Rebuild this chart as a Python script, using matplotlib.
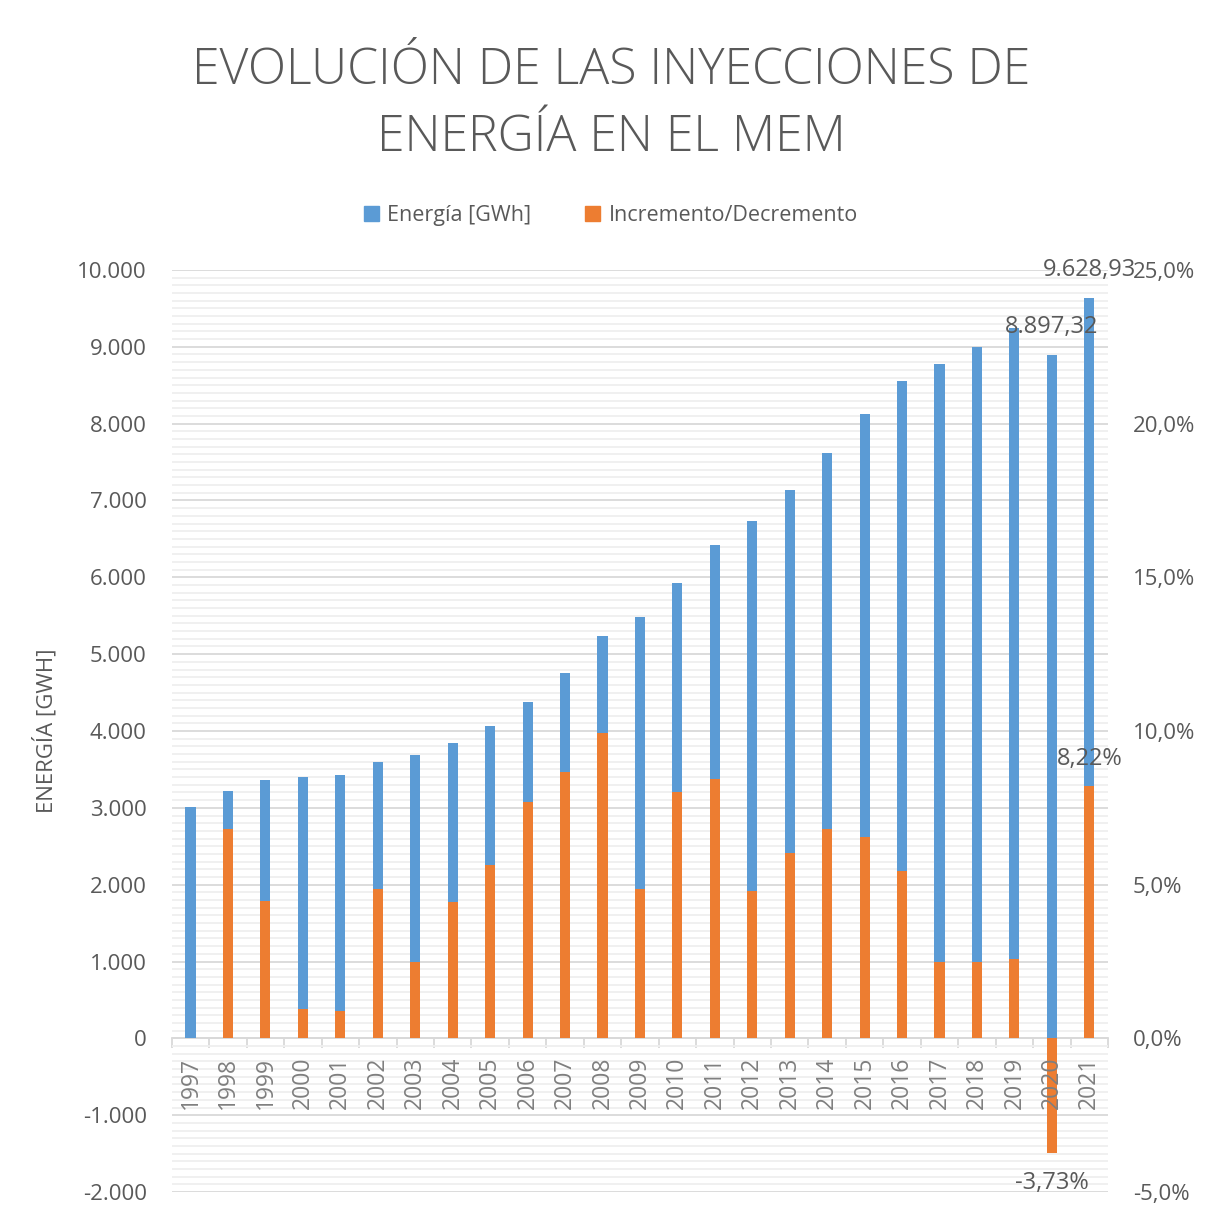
import numpy as np
import matplotlib.pyplot as plt
from matplotlib.ticker import FuncFormatter, MultipleLocator, FixedLocator
from matplotlib.patches import Patch

plt.rcParams['font.family'] = ['Open Sans', 'DejaVu Sans']

years = [str(y) for y in range(1997, 2022)]
energia = [3008, 3216, 3359, 3398, 3424, 3594, 3685, 3841, 4063, 4375, 4753, 5234,
           5482, 5924, 6419, 6732, 7135, 7617, 8125, 8555, 8776, 8997, 9245,
           8897.32, 9628.93]
incremento = [0, 6.80, 4.46, 0.94, 0.88, 4.85, 2.47, 4.43, 5.63, 7.68, 8.66, 9.93,
              4.85, 8.00, 8.43, 4.78, 6.02, 6.80, 6.54, 5.43, 2.47, 2.47, 2.57,
              -3.73, 8.22]

blue = '#5b9bd5'
orange = '#ed7d31'
gray = '#595959'

fig = plt.figure(figsize=(12.1, 12.16), dpi=100)
ax = fig.add_axes([0.142, 0.0197, 0.7737, 0.7583])
ax2 = ax.twinx()

x = np.arange(len(years))
w = 0.27
ax.bar(x, energia, width=w, color=blue, zorder=3)
ax2.bar(x, incremento, width=w, color=orange, zorder=3)

ax.set_ylim(-2000, 10000)
ax2.set_ylim(-5, 25)
ax.set_xlim(-0.5, len(years) - 0.5)

ax.yaxis.set_major_locator(MultipleLocator(1000))
ax.yaxis.set_minor_locator(MultipleLocator(100))
ax.grid(axis='y', which='major', color='#d9d9d9', lw=1.3, zorder=0)
ax.grid(axis='y', which='minor', color='#efefef', lw=1.3, zorder=0)
ax.set_axisbelow(True)
ax.tick_params(axis='y', which='both', length=0, labelsize=16, labelcolor=gray, pad=18)
ax.yaxis.set_major_formatter(FuncFormatter(lambda v, p: f'{int(v):,}'.replace(',', '.')))

ax2.yaxis.set_major_locator(MultipleLocator(5))
ax2.tick_params(axis='y', length=0, labelsize=16, labelcolor=gray, pad=18)
ax2.yaxis.set_major_formatter(FuncFormatter(lambda v, p: f'{v:.1f}%'.replace('.', ',')))

for a in (ax, ax2):
    for s in a.spines.values():
        s.set_visible(False)

# category axis at zero
ax.spines['bottom'].set_visible(True)
ax.spines['bottom'].set_position(('data', 0))
ax.spines['bottom'].set_color('#d9d9d9')
ax.spines['bottom'].set_linewidth(1.3)
ax.set_xticks(x)
ax.set_xticklabels([])
ax.tick_params(axis='x', which='major', length=0)
ax.xaxis.set_minor_locator(FixedLocator(np.arange(-0.5, len(years), 1)))
ax.tick_params(axis='x', which='minor', length=7, color='#d9d9d9', width=1.3, direction='out')

# year labels drawn on the twin so they sit above the bars
for i, yr in enumerate(years):
    ax2.text(i, -0.6, yr, rotation=90, ha='center', va='top', fontsize=16.5,
             color='#7f7f7f', zorder=5)

ax.set_ylabel('ENERGÍA [GWH]', fontsize=16, color=gray, labelpad=14)

# data labels
ax.text(x[-1], energia[-1] + 365, '9.628,93', ha='center', va='center', fontsize=17, color=gray, zorder=6)
ax.text(x[-2], energia[-2] + 355, '8.897,32', ha='center', va='center', fontsize=17, color=gray, zorder=6)
ax2.text(x[-1], incremento[-1] + 0.88, '8,22%', ha='center', va='center', fontsize=17, color=gray, zorder=6)
ax2.text(x[-2], incremento[-2] - 0.98, '-3,73%', ha='center', va='center', fontsize=17, color=gray, zorder=6)

fig.text(0.505, 0.914, 'EVOLUCIÓN DE LAS INYECCIONES DE\nENERGÍA EN EL MEM', ha='center', va='center',
         fontsize=36, color=gray, fontweight='light', linespacing=1.45)

# legend
handles = [Patch(color=blue, label='Energía [GWh]'), Patch(color=orange, label='Incremento/Decremento')]
fig.legend(handles=handles, loc='center', bbox_to_anchor=(0.505, 0.823), ncol=2, frameon=False,
           fontsize=15.5, labelcolor=gray, handlelength=0.7, handleheight=0.7, handletextpad=0.4,
           columnspacing=2.5)

fig.savefig('out.png', dpi=100)
